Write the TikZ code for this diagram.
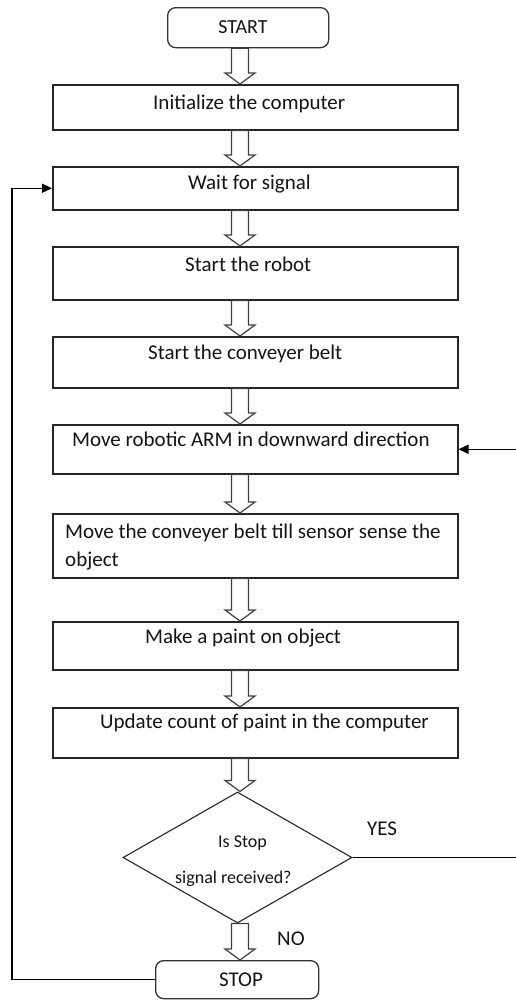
\documentclass[tikz,border=0pt]{standalone}
\usepackage{fontspec}
\setmainfont{Carlito}
\usetikzlibrary{shapes.geometric,arrows.meta,calc}
\newcommand\hollowarr[2]{%
  \path (#1.south -| ax) coordinate (ha-s) (#2.north -| ax) coordinate (ha-t);
  \draw[hollowline] ($(ha-s)+(-8.5,0)$) -- ($(ha-t)+(-8.5,-11)$) -- ($(ha-t)+(-15,-11)$)
    -- (ha-t) -- ($(ha-t)+(15,-11)$) -- ($(ha-t)+(8.5,-11)$) -- ($(ha-s)+(8.5,0)$) -- cycle;}
\begin{document}
\begin{tikzpicture}[x=1pt,y=-1pt,
  box/.style={draw=black!85,line width=1.5pt,minimum width=405pt,inner sep=0pt,anchor=north west},
  term/.style={draw=black!80,line width=1.3pt,rounded corners=8pt,inner sep=0pt,anchor=north west},
  decision/.style={draw=black!85,line width=1.1pt,shape=diamond,inner sep=0pt,minimum width=229pt,minimum height=131pt},
  txt/.style={inner sep=0pt,font=\fontsize{21}{28}\selectfont,text=black!92},
  smalltxt/.style={inner sep=0pt,font=\fontsize{18}{22}\selectfont,text=black!92},
  hollowline/.style={draw=black!75,line width=1.2pt,line join=miter},
  loopline/.style={draw=black,line width=1.3pt,-{Triangle[length=10pt,width=9pt]}}]
\useasboundingbox[fill=white] (0,0) rectangle (515,1001);
\coordinate (ax) at (240,0);
\coordinate (lx) at (12,0);
\coordinate (rx) at (518,0);
% shapes
\node[term,minimum width=161pt,minimum height=40pt] (start) at (167,7) {};
\node[box,minimum height=45pt] (b1) at (52,84) {};
\node[box,minimum height=43pt] (b2) at (52,166) {};
\node[box,minimum height=53pt] (b3) at (52,246) {};
\node[box,minimum height=51pt] (b4) at (52,336) {};
\node[box,minimum height=49pt] (b5) at (52,424) {};
\node[box,minimum height=64pt] (b6) at (52,513) {};
\node[box,minimum height=48pt] (b7) at (52,621) {};
\node[box,minimum height=50pt] (b8) at (52,707) {};
\node[decision] (dia) at (237.5,857.5) {};
\node[term,minimum width=163pt,minimum height=38pt] (stop) at (155,960) {};
% texts
\node[txt,anchor=base,font=\fontsize{20}{24}\selectfont] (tstart) at (243,33.5) {START};
\node[txt,anchor=base west] (t1) at (153,109.5) {Initialize the computer};
\node[txt,anchor=base west] (t2) at (188,189.5) {Wait for signal};
\node[txt,anchor=base west] (t3) at (185,271.5) {Start the robot};
\node[txt,anchor=base west] (t4) at (148,359.5) {Start the conveyer belt};
\node[txt,anchor=base west] (t5) at (72,446.5) {Move robotic ARM in downward direction};
\node[txt,anchor=base west] (t6a) at (65,538.5) {Move the conveyer belt till sensor sense the};
\node[txt,anchor=base west] (t6b) at (65,566.5) {object};
\node[txt,anchor=base west] (t7) at (145,643.5) {Make a paint on object};
\node[txt,anchor=base west] (t8) at (100,728.5) {Update count of paint in the computer};
\node[smalltxt,anchor=base west] (td1) at (218,847.5) {Is Stop};
\node[smalltxt,anchor=base west] (td2) at (175,883) {signal received?};
\node[txt,anchor=base west] (tyes) at (367,835) {YES};
\node[txt,anchor=base west] (tno) at (277,945) {NO};
\node[txt,anchor=base] (tstop) at (241,986) {STOP};
% hollow arrows
\hollowarr{start}{b1}
\hollowarr{b1}{b2}
\hollowarr{b2}{b3}
\hollowarr{b3}{b4}
\hollowarr{b4}{b5}
\hollowarr{b5}{b6}
\hollowarr{b6}{b7}
\hollowarr{b7}{b8}
\hollowarr{b8}{dia}
\hollowarr{dia}{stop}
% loops
\draw[loopline] (stop.west) -- (stop.west -| lx) -- (b2.west -| lx) -- (b2.west);
\draw[loopline] (dia.east) -- (dia.east -| rx) -- (b5.east -| rx) -- (b5.east);
\end{tikzpicture}
\end{document}
